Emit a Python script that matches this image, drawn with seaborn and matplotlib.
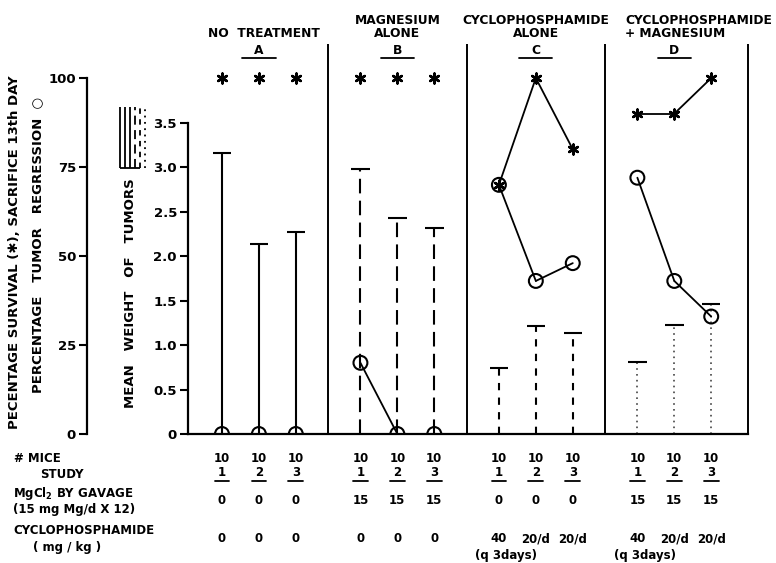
import matplotlib
matplotlib.use("Agg")
import matplotlib.pyplot as plt
import matplotlib.transforms as mtransforms
import pandas as pd
import seaborn as sns

groups = ["A", "B", "C", "D"]
group_titles = ["NO  TREATMENT", "MAGNESIUM\nALONE", "CYCLOPHOSPHAMIDE\nALONE",
                "CYCLOPHOSPHAMIDE\n+ MAGNESIUM"]
studies = ["1", "2", "3"]
mean_weight = [3.16, 2.14, 2.27, 2.98, 2.43, 2.31, 0.74, 1.21, 1.14, 0.81, 1.23, 1.46]
survival = [100, 100, 100, 100, 100, 100, 70, 100, 80, 90, 90, 100]
regression = [0, 0, 0, 20, 0, 0, 70, 43, 48, 72, 43, 33]
mice = ["10", "10", "10", "10", "10", "10", "10", "10", "10", "10", "10", "10"]
mgcl2 = ["0", "0", "0", "15", "15", "15", "0", "0", "0", "15", "15", "15"]
cyclo = ["0", "0", "0", "0", "0", "0", "40", "20/d", "20/d", "40", "20/d", "20/d"]
cyclo_note = ["", "", "", "", "", "", "(q 3days)", "", "", "(q 3days)", "", ""]
weight_ticks = [0, 0.5, 1.0, 1.5, 2.0, 2.5, 3.0, 3.5]
pct_ticks = [0, 25, 50, 75, 100]

sns.set_theme(style="ticks")
plt.rcParams["font.family"] = ["DejaVu Sans"]
plt.rcParams["font.weight"] = "bold"
plt.rcParams["text.color"] = "black"
plt.rcParams["axes.labelcolor"] = "black"
plt.rcParams["ytick.color"] = "black"
plt.rcParams["xtick.color"] = "black"

GAP = 3.75
rows = []
for g, grp in enumerate(groups):
    for s, st in enumerate(studies):
        i = g * 3 + s
        rows.append(dict(group=grp, study=st, x=g * GAP + s, weight=mean_weight[i],
                         survival=survival[i], regression=regression[i]))
df = pd.DataFrame(rows)

W, H = 776, 563
fig = plt.figure(figsize=(W / 100, H / 100), dpi=100)
ax = fig.add_axes([188 / W, 129 / H, 562 / W, 396 / H])
ax2 = ax.twinx()

bar_styles = ["-", (0, (7, 3.5)), (0, (3.5, 3.5)), (0, (1, 2.5))]
bar_colors = ["black", "black", "black", "#444444"]
for g, grp in enumerate(groups):
    sub = df[df.group == grp]
    ax.vlines(sub.x, 0, sub.weight, colors=bar_colors[g], linestyles=bar_styles[g],
              lw=1.5 if g < 3 else 1.2)
    ax.hlines(sub.weight, sub.x - 0.25, sub.x + 0.25, colors="black", lw=1.5)

# separators between treatment groups
bounds = [g * GAP - 0.875 for g in range(1, 4)] + [3 * GAP + 3.0]
ax.vlines(bounds, 0, 4.38, colors="black", lw=1.4)

# connecting lines (skip flat runs sitting on 0 / 100)
for grp in groups:
    sub = df[df.group == grp].reset_index(drop=True)
    for col in ["survival", "regression"]:
        for k in range(2):
            a, b = sub[col][k], sub[col][k + 1]
            if a == b and a in (0, 100):
                continue
            sns.lineplot(x=sub.x[k:k + 2], y=sub[col][k:k + 2], color="black", lw=1.3,
                         ax=ax2, estimator=None, legend=False)

sns.scatterplot(data=df, x="x", y="regression", marker="o", s=100, facecolors="none",
                edgecolor="black", linewidth=1.5, ax=ax2, zorder=5)
sns.scatterplot(data=df, x="x", y="survival", marker=(6, 2, 0), s=50, color="black",
                linewidth=1.8, ax=ax2, zorder=6)

# weight axis
ax.set_xticks([])
ax.set_yticks(weight_ticks)
ax.set_yticklabels(["0" if t == 0 else f"{t:.1f}" for t in weight_ticks])
for sp in ["top", "right"]:
    ax.spines[sp].set_visible(False)
ax.spines["left"].set_bounds(0, 3.5)
ax.spines["bottom"].set_bounds(-0.92, 3 * GAP + 3.0)
for sp in ["left", "bottom"]:
    ax.spines[sp].set_linewidth(1.6)
    ax.spines[sp].set_color("black")
ax.tick_params(axis="y", length=6, width=1.5, labelsize=9.5, pad=2, colors="black")
ax.set_xlabel("")
ax.set_ylabel("")

# percentage axis
for sp in ["top", "right", "bottom"]:
    ax2.spines[sp].set_visible(False)
ax2.spines["left"].set_visible(True)
ax2.spines["left"].set_position(("axes", -101 / 562))
ax2.spines["left"].set_bounds(0, 100)
ax2.spines["left"].set_linewidth(1.6)
ax2.spines["left"].set_color("black")
ax2.yaxis.tick_left()
ax2.set_yticks(pct_ticks)
ax2.set_yticklabels([str(t) for t in pct_ticks])
ax2.tick_params(axis="y", length=6, width=1.5, labelsize=9.5, pad=2, colors="black")
ax2.set_xlabel("")
ax2.set_ylabel("")

# axis titles
fig.text(15 / W, 1 - 252 / H, "PECENTAGE SURVIVAL (✱), SACRIFICE 13th DAY", rotation=90,
         ha="center", va="center", fontsize=9.5)
fig.text(38 / W, 1 - 245 / H, "PERCENTAGE   TUMOR   REGRESSION  ○", rotation=90,
         ha="center", va="center", fontsize=9.5)
fig.text(130 / W, 1 - 293 / H, "MEAN   WEIGHT   OF   TUMORS", rotation=90,
         ha="center", va="center", fontsize=9.5)

# line style key
key = fig.add_axes([119 / W, 1 - 170 / H, 27 / W, 63 / H])
key_styles = ["-", "-", "-", (0, (5, 3)), (0, (3, 3)), (0, (1, 2.5))]
for k, ls in enumerate(key_styles):
    key.vlines(k, 0.03, 1, colors="black", linestyles=ls, lw=1.3)
key.hlines(0.03, 0, 4, colors="black", lw=1.3)
key.set_xlim(-0.3, 5.3)
key.set_ylim(0, 1)
key.axis("off")

# headers
tr = mtransforms.blended_transform_factory(ax.transData, fig.transFigure)
for g, title in enumerate(group_titles):
    cx = g * GAP + 1
    if g == 3:
        ax.text(g * GAP - 0.33, 1 - 40 / H, title, transform=tr, ha="left", va="bottom",
                fontsize=8.8, linespacing=1.05)
    else:
        ax.text(cx + (0.15 if g == 0 else 0), 1 - 40 / H, title, transform=tr,
                ha="center", va="bottom", fontsize=8.8, linespacing=1.05)
    ax.text(cx, 1 - 50 / H, groups[g], transform=tr, ha="center", va="center", fontsize=8.8)
    ax.plot([cx - 0.45, cx + 0.45], [1 - 58 / H] * 2, transform=tr, color="black",
            lw=1.3, clip_on=False)

# table under the chart
row_labels = [("# MICE", 14, 458), ("STUDY", 40, 474), ("MgCl$_2$ BY GAVAGE", 13, 493),
              ("(15 mg Mg/d X 12)", 13, 510), ("CYCLOPHOSPHAMIDE", 13, 531),
              ("( mg / kg )", 33, 547)]
for txt, px, py in row_labels:
    fig.text(px / W, 1 - py / H, txt, ha="left", va="center", fontsize=8.5)

for i, xv in enumerate(df.x):
    ax.text(xv, 1 - 458 / H, mice[i], transform=tr, ha="center", va="center", fontsize=8.5)
    ax.text(xv, 1 - 473 / H, df.study[i], transform=tr, ha="center", va="center", fontsize=8.5)
    ax.plot([xv - 0.2, xv + 0.2], [1 - 481 / H] * 2, transform=tr, color="black", lw=1.3,
            clip_on=False)
    ax.text(xv, 1 - 501 / H, mgcl2[i], transform=tr, ha="center", va="center", fontsize=8.5)
    ax.text(xv, 1 - 539 / H, cyclo[i], transform=tr, ha="center", va="center", fontsize=8.5)
    if cyclo_note[i]:
        ax.text(xv + 0.2, 1 - 556 / H, cyclo_note[i], transform=tr, ha="center",
                va="center", fontsize=8.5)

ax.set_xlim(-0.92, 14.3)
ax.set_ylim(0, 4.45)
ax2.set_ylim(0, 4.45 * 25)

fig.savefig("out.png", dpi=100)
